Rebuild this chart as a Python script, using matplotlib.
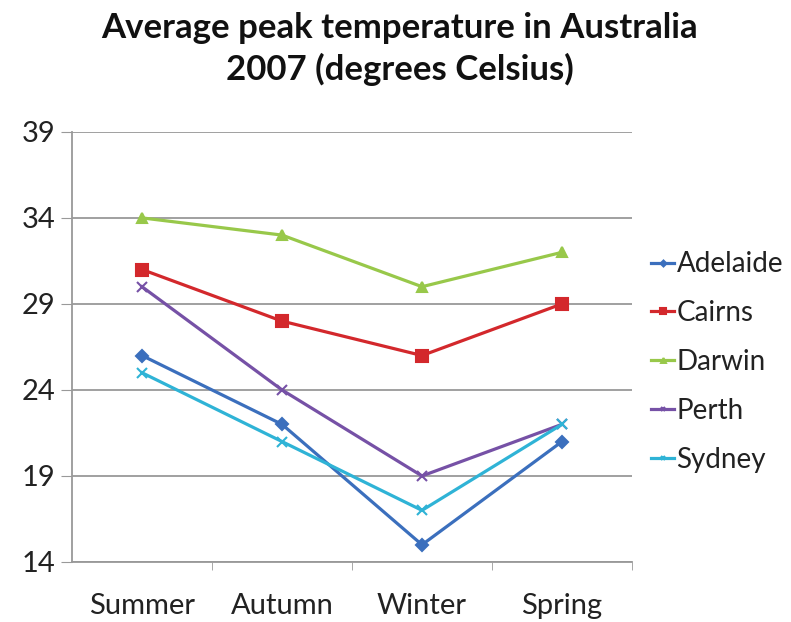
import matplotlib
matplotlib.use("Agg")
from matplotlib import pyplot as plt

seasons = ["Summer", "Autumn", "Winter", "Spring"]
cities = ["Adelaide", "Cairns", "Darwin", "Perth", "Sydney"]
adelaide = [26, 22, 15, 21]
cairns = [31, 28, 26, 29]
darwin = [34, 33, 30, 32]
perth = [30, 24, 19, 22]
sydney = [25, 21, 17, 22]
y_ticks = [14, 19, 24, 29, 34, 39]

series = [adelaide, cairns, darwin, perth, sydney]
colors = ["#3b6fbd", "#d3282c", "#98c84a", "#7651a6", "#2fb3d6"]
markers = ["D", "s", "^", "x", "x"]
msizes = [6, 8, 7, 7, 7]

plt.rcParams['font.family'] = ['Lato', 'DejaVu Sans']

fig = plt.figure(figsize=(7.91, 6.22), dpi=100)
ax = fig.add_axes([0.091, 0.0965, 0.708, 0.6915])

x = list(range(len(seasons)))
for name, vals, c, m, ms in zip(cities, series, colors, markers, msizes):
    ax.plot(x, vals, color=c, linewidth=2.3, marker=m, markersize=ms,
            markeredgewidth=1.5, label=name)

ax.set_xlim(-0.5, 3.5)
ax.set_ylim(14, 39)
ax.set_yticks(y_ticks)
ax.set_xticks(x)
ax.set_xticklabels(seasons, fontsize=21)
ax.tick_params(axis='y', labelsize=21, length=8, color="#999999", pad=4,
               labelcolor="#222222")
ax.tick_params(axis='x', length=0, pad=22, labelcolor="#222222")
ax.set_xticks([0.5, 1.5, 2.5, 3.5], minor=True)
ax.tick_params(axis='x', which='minor', length=6, color="#999999")
ax.yaxis.grid(True, color="#999999", linewidth=1.3)
ax.set_axisbelow(True)
for s in ["top", "right"]:
    ax.spines[s].set_visible(False)
for s in ["left", "bottom"]:
    ax.spines[s].set_color("#999999")
    ax.spines[s].set_linewidth(1.3)

fig.text(0.505, 0.98, "Average peak temperature in Australia\n2007 (degrees Celsius)",
         ha="center", va="top", fontsize=25, fontweight="bold", linespacing=1.3,
         color="#111111")

leg = ax.legend(loc="center left", bbox_to_anchor=(1.0, 0.465), frameon=False,
                fontsize=20, handlelength=0.8, handletextpad=0.1, labelspacing=0.82,
                borderaxespad=0.3, markerscale=0.5)
for t in leg.get_texts():
    t.set_color("#222222")

fig.savefig("out.png", dpi=100)
